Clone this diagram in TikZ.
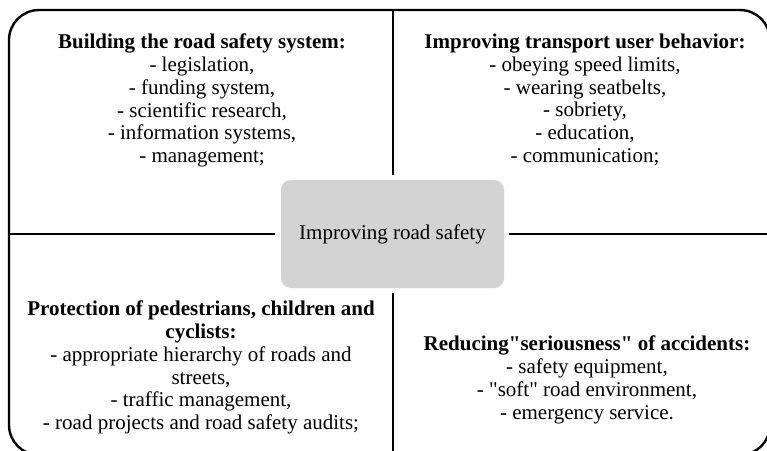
\documentclass[tikz,border=0pt]{standalone}
\usepackage{fontspec}
\setmainfont{Liberation Serif}[Ligatures=TeXOff]
\usepackage{xcolor}
\usepackage{tikz}
\usetikzlibrary{positioning,calc}
\definecolor{coregrey}{RGB}{211,211,211}
\tikzset{
  outline/.style={draw, line width=2.4pt, rounded corners=30pt, minimum width=761pt, minimum height=445pt, inner sep=0pt},
  centre/.style={fill=coregrey, rounded corners=10pt, minimum width=223pt, minimum height=108pt, inner sep=0pt, font=\fontsize{21}{22.7}\selectfont},
  listbox/.style={align=center, anchor=north, inner sep=0pt, font=\fontsize{21}{22.7}\selectfont},
  divider/.style={line width=2pt},
}
\begin{document}
\begin{tikzpicture}[x=1pt, y=-1pt]
  \useasboundingbox (0,0) rectangle (767,450);
  \node[outline] (frame) at (389.5,232.5) {};
  \node[centre] (core) at (392.5,234) {Improving road safety};

  % cross dividing the four fields
  \draw[divider, shorten >=5pt] (frame.north -| core) -- (core.north);
  \draw[divider, shorten <=5pt] (core.south) -- (frame.south -| core);
  \draw[divider, shorten >=6pt] (frame.west |- core) -- (core.west);
  \draw[divider, shorten <=5pt] (core.east) -- (frame.east |- core);

  \node[listbox] (system) at (202,34)
    {\textbf{Building the road safety system:}\\ - legislation,\\ - funding system,\\ - scientific research,\\ - information systems,\\ - management;};
  \node[listbox] (behavior) at (585,34)
    {\textbf{Improving transport user behavior:}\\ - obeying speed limits,\\ - wearing seatbelts,\\ - sobriety,\\ - education,\\ - communication;};
  \node[listbox] (protection) at (201,301)
    {\textbf{Protection of pedestrians, children and}\\ \textbf{cyclists:}\\ - appropriate hierarchy of roads and\\ streets,\\ - traffic management,\\ - road projects and road safety audits;};
  \node[listbox] (accidents) at (587,336)
    {\textbf{Reducing"seriousness" of accidents:}\\ - safety equipment,\\ - "soft" road environment,\\ - emergency service.};
\end{tikzpicture}
\end{document}
